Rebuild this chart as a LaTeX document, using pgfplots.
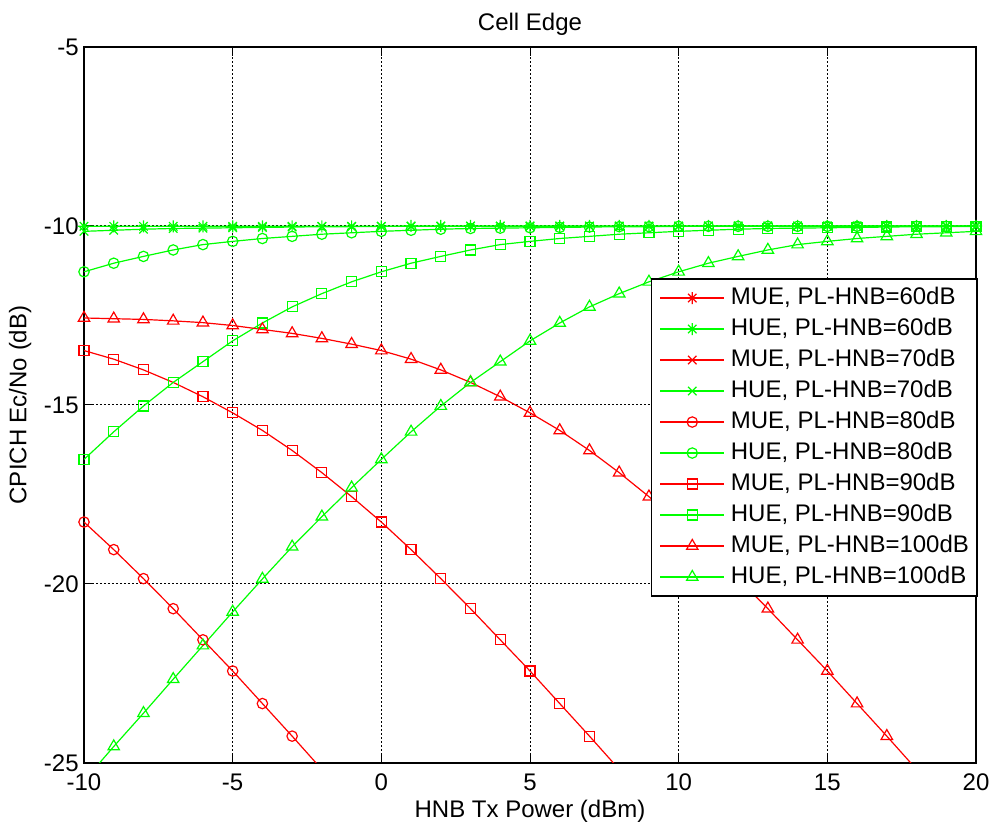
\documentclass[border=0pt]{standalone}
\usepackage{fontspec}
\setmainfont{Liberation Sans}
\usepackage{pgfplots}
\usepackage{pgfplotstable}
\pgfplotsset{compat=1.18}
\definecolor{mred}{rgb}{1,0,0}
\definecolor{mgreen}{rgb}{0,1,0}
\pgfdeclareplotmark{mstar}{%
  \pgfpathmoveto{\pgfqpoint{0pt}{\pgfplotmarksize}}\pgfpathlineto{\pgfqpoint{0pt}{-\pgfplotmarksize}}%
  \pgfpathmoveto{\pgfqpoint{\pgfplotmarksize}{0pt}}\pgfpathlineto{\pgfqpoint{-\pgfplotmarksize}{0pt}}%
  \pgfpathmoveto{\pgfqpoint{.707\pgfplotmarksize}{.707\pgfplotmarksize}}\pgfpathlineto{\pgfqpoint{-.707\pgfplotmarksize}{-.707\pgfplotmarksize}}%
  \pgfpathmoveto{\pgfqpoint{-.707\pgfplotmarksize}{.707\pgfplotmarksize}}\pgfpathlineto{\pgfqpoint{.707\pgfplotmarksize}{-.707\pgfplotmarksize}}%
  \pgfusepathqstroke}

\pgfplotstableread{
x m60 m70 m80 m90 m100
-10 -36.93 -27.08 -18.27 -13.48 -12.57
-9 -37.92 -28.05 -19.04 -13.72 -12.59
-8 -38.92 -29.03 -19.85 -14.02 -12.61
-7 -39.92 -30.01 -20.69 -14.37 -12.65
-6 -40.92 -30.99 -21.56 -14.77 -12.70
-5 -41.92 -31.96 -22.43 -15.22 -12.78
-4 -42.92 -32.95 -23.34 -15.71 -12.89
-3 -43.92 -33.94 -24.25 -16.27 -13.00
-2 -44.92 -34.94 -25.18 -16.89 -13.14
-1 -45.92 -35.93 -26.13 -17.56 -13.30
0 -46.92 -36.93 -27.08 -18.27 -13.48
1 -47.92 -37.92 -28.05 -19.04 -13.72
2 -48.92 -38.92 -29.03 -19.85 -14.02
3 -49.92 -39.92 -30.01 -20.69 -14.37
4 -50.92 -40.92 -30.99 -21.56 -14.77
5 -51.92 -41.92 -31.96 -22.43 -15.22
6 -52.92 -42.92 -32.95 -23.34 -15.71
7 -53.92 -43.92 -33.94 -24.25 -16.27
8 -54.92 -44.92 -34.94 -25.18 -16.89
9 -55.92 -45.92 -35.93 -26.13 -17.56
10 -56.92 -46.92 -36.93 -27.08 -18.27
11 -57.92 -47.92 -37.92 -28.05 -19.04
12 -58.92 -48.92 -38.92 -29.03 -19.85
13 -59.92 -49.92 -39.92 -30.01 -20.69
14 -60.92 -50.92 -40.92 -30.99 -21.56
15 -61.92 -51.92 -41.92 -31.96 -22.43
16 -62.92 -52.92 -42.92 -32.95 -23.34
17 -63.92 -53.92 -43.92 -33.94 -24.25
18 -64.92 -54.92 -44.92 -34.94 -25.18
19 -65.92 -55.92 -45.92 -35.93 -26.13
20 -66.92 -56.92 -46.92 -36.93 -27.08
}\mue

\pgfplotstableread{
x h60 h70 h80 h90 h100
-10 -10.01 -10.15 -11.28 -16.52 -25.50
-9 -10.01 -10.12 -11.04 -15.75 -24.54
-8 -10.01 -10.09 -10.85 -15.03 -23.61
-7 -10.01 -10.07 -10.67 -14.37 -22.66
-6 -10.01 -10.06 -10.52 -13.79 -21.72
-5 -10.01 -10.05 -10.43 -13.21 -20.78
-4 -10.01 -10.04 -10.35 -12.71 -19.86
-3 -10.01 -10.03 -10.29 -12.26 -18.96
-2 -10.01 -10.02 -10.23 -11.89 -18.12
-1 -10.01 -10.02 -10.19 -11.56 -17.31
0 -10.01 -10.01 -10.15 -11.28 -16.52
1 -10.00 -10.01 -10.12 -11.04 -15.75
2 -10.00 -10.01 -10.09 -10.85 -15.03
3 -10.00 -10.01 -10.07 -10.67 -14.37
4 -10.00 -10.01 -10.06 -10.52 -13.79
5 -10.00 -10.01 -10.05 -10.43 -13.21
6 -10.00 -10.01 -10.04 -10.35 -12.71
7 -10.00 -10.01 -10.03 -10.29 -12.26
8 -10.00 -10.01 -10.02 -10.23 -11.89
9 -10.00 -10.01 -10.02 -10.19 -11.56
10 -10.00 -10.01 -10.01 -10.15 -11.28
11 -10.00 -10.00 -10.01 -10.12 -11.04
12 -10.00 -10.00 -10.01 -10.09 -10.85
13 -10.00 -10.00 -10.01 -10.07 -10.67
14 -10.00 -10.00 -10.01 -10.06 -10.52
15 -10.00 -10.00 -10.01 -10.05 -10.43
16 -10.00 -10.00 -10.01 -10.04 -10.35
17 -10.00 -10.00 -10.01 -10.03 -10.29
18 -10.00 -10.00 -10.01 -10.02 -10.23
19 -10.00 -10.00 -10.01 -10.02 -10.19
20 -10.00 -10.00 -10.01 -10.01 -10.15
}\hue

\begin{document}
\fontsize{12bp}{14bp}\selectfont
\begin{tikzpicture}
\useasboundingbox (-42bp,-29.5bp) rectangle (452.5bp,381.5bp);
\begin{axis}[
  at={(0,0)}, anchor=south west,
  scale only axis, width=446bp, height=358bp,
  xmin=-10, xmax=20, ymin=-25, ymax=-5,
  xtick={-10,-5,0,5,10,15,20}, xticklabels={-10,-5,0,5,10,15,20},
  ytick={-25,-20,-15,-10,-5}, yticklabels={-25,-20,-15,-10,-5},
  tick align=inside, major tick length=4.5bp,
  every tick/.style={black, line width=0.5bp},
  yticklabel style={inner xsep=2.5bp},
  xticklabel style={yshift=-1.2bp},
  grid=major,
  major grid style={black, line width=0.5bp, dash pattern=on 1bp off 1bp},
  axis line style={black, line width=0.7bp},
  title={Cell Edge},
  title style={at={(axis description cs:0.5,1.0349)}, anchor=center, yshift=-7bp},
  xlabel={HNB Tx Power (dBm)},
  xlabel style={at={(axis description cs:0.5,-0.0628)}, anchor=center, yshift=-1.5bp},
  ylabel={CPICH Ec/No (dB)},
  ylabel style={at={(axis description cs:-0.0717,0.5)}, anchor=center},
  legend cell align=left,
  legend style={at={(axis description cs:1.002,0.677)}, anchor=north east,
    draw=black, line width=0.8bp, fill=white,
    inner xsep=4bp, inner ysep=1.75bp, row sep=0pt,
    /tikz/every odd column/.append style={column sep=3bp},
    nodes={inner xsep=0pt, inner ysep=0pt, text height=11.2bp, text depth=4.3bp}},
  legend image code/.code={\draw[mark repeat=2,mark phase=2] plot coordinates {(0bp,0bp) (16bp,0bp) (32bp,0bp)};},
  every axis plot/.append style={line width=0.6bp, mark options={solid}},
]
\addplot[mred, mark=mstar, mark size=3bp] table[x=x,y=m60]{\mue};
\addlegendentry{MUE, PL-HNB=60dB}
\addplot[mgreen, mark=mstar, mark size=3bp] table[x=x,y=h60]{\hue};
\addlegendentry{HUE, PL-HNB=60dB}
\addplot[mred, mark=x, mark size=3bp] table[x=x,y=m70]{\mue};
\addlegendentry{MUE, PL-HNB=70dB}
\addplot[mgreen, mark=x, mark size=3bp] table[x=x,y=h70]{\hue};
\addlegendentry{HUE, PL-HNB=70dB}
\addplot[mred, mark=o, mark size=2.6bp] table[x=x,y=m80]{\mue};
\addlegendentry{MUE, PL-HNB=80dB}
\addplot[mgreen, mark=o, mark size=2.6bp] table[x=x,y=h80]{\hue};
\addlegendentry{HUE, PL-HNB=80dB}
\addplot[mred, mark=square, mark size=2.5bp] table[x=x,y=m90]{\mue};
\addlegendentry{MUE, PL-HNB=90dB}
\addplot[mgreen, mark=square, mark size=2.5bp] table[x=x,y=h90]{\hue};
\addlegendentry{HUE, PL-HNB=90dB}
\addplot[mred, mark=triangle, mark size=3.3bp] table[x=x,y=m100]{\mue};
\addlegendentry{MUE, PL-HNB=100dB}
\addplot[mgreen, mark=triangle, mark size=3.3bp] table[x=x,y=h100]{\hue};
\addlegendentry{HUE, PL-HNB=100dB}
\end{axis}
\end{tikzpicture}
\end{document}
